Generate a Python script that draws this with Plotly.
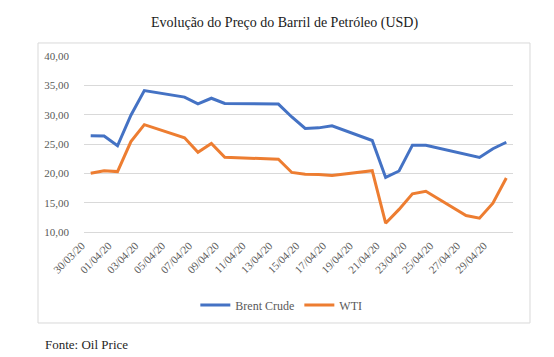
import plotly.graph_objects as go

dates = ["2020-03-30", "2020-03-31", "2020-04-01", "2020-04-02", "2020-04-03",
         "2020-04-06", "2020-04-07", "2020-04-08", "2020-04-09", "2020-04-13",
         "2020-04-14", "2020-04-15", "2020-04-16", "2020-04-17", "2020-04-20",
         "2020-04-21", "2020-04-22", "2020-04-23", "2020-04-24", "2020-04-27",
         "2020-04-28", "2020-04-29", "2020-04-30"]
brent = [26.40, 26.35, 24.70, 29.90, 34.10, 33.00, 31.85, 32.80, 31.90, 31.80,
         29.60, 27.65, 27.75, 28.10, 25.60, 19.30, 20.40, 24.80, 24.80, 23.30,
         22.70, 24.20, 25.30]
wti = [20.00, 20.45, 20.30, 25.40, 28.30, 26.05, 23.60, 25.10, 22.75, 22.40,
       20.15, 19.85, 19.80, 19.65, 20.45, 11.50, 13.85, 16.50, 16.95, 12.80,
       12.35, 14.90, 19.20]

title_text = "Evolução do Preço do Barril de Petróleo (USD)"
source_text = "Fonte: Oil Price"

FONT = "'Liberation Serif', 'Times New Roman', 'DejaVu Serif', serif"
GRAY = "#595959"

fig = go.Figure()
fig.add_trace(go.Scatter(x=dates, y=brent, mode="lines", name="Brent Crude",
                         line=dict(color="#4472C4", width=3)))
fig.add_trace(go.Scatter(x=dates, y=wti, mode="lines", name="WTI",
                         line=dict(color="#ED7D31", width=3)))

fig.update_layout(
    width=554, height=357,
    margin=dict(l=76, r=49, t=48, b=133),
    paper_bgcolor="white", plot_bgcolor="white",
    separators=",.",
    font=dict(family=FONT, color=GRAY, size=11),
    showlegend=True,
    legend=dict(orientation="h", x=0.46, xanchor="center", y=-0.415, yanchor="middle",
                font=dict(family=FONT, size=12, color=GRAY), bgcolor="rgba(0,0,0,0)",
                itemwidth=30, tracegroupgap=0),
    xaxis=dict(type="date", range=["2020-03-29 12:00", "2020-04-30 12:00"],
               tick0="2020-03-30", dtick=2 * 86400000, tickformat="%d/%m/%y",
               tickangle=-45, showgrid=False, showline=True, linecolor="#D9D9D9",
               linewidth=1, ticks="", zeroline=False, ticklabelshift=-9,
               ticklabelstandoff=2,
               tickfont=dict(family=FONT, size=11, color=GRAY)),
    yaxis=dict(range=[10, 40], dtick=5, tick0=10, tickformat=".2f",
               showgrid=True, gridcolor="#D9D9D9", gridwidth=1, zeroline=False,
               showline=False, ticks="", ticklabelstandoff=14,
               tickfont=dict(family=FONT, size=11, color=GRAY)),
    shapes=[dict(type="rect", xref="paper", yref="paper",
                 x0=-0.1072, x1=1.0396, y0=-0.517, y1=1.074,
                 line=dict(color="#D9D9D9", width=1), fillcolor="rgba(0,0,0,0)",
                 layer="below")],
    annotations=[
        dict(text=title_text, xref="paper", yref="paper", x=0.4685, y=1.1875,
             xanchor="center", yanchor="middle", showarrow=False,
             font=dict(family=FONT, size=14, color="#1a1a1a")),
        dict(text=source_text, xref="paper", yref="paper", x=-0.0956, y=-0.642,
             xanchor="left", yanchor="middle", showarrow=False,
             font=dict(family=FONT, size=13, color="#262626")),
    ],
)

fig.write_html("out.html")
